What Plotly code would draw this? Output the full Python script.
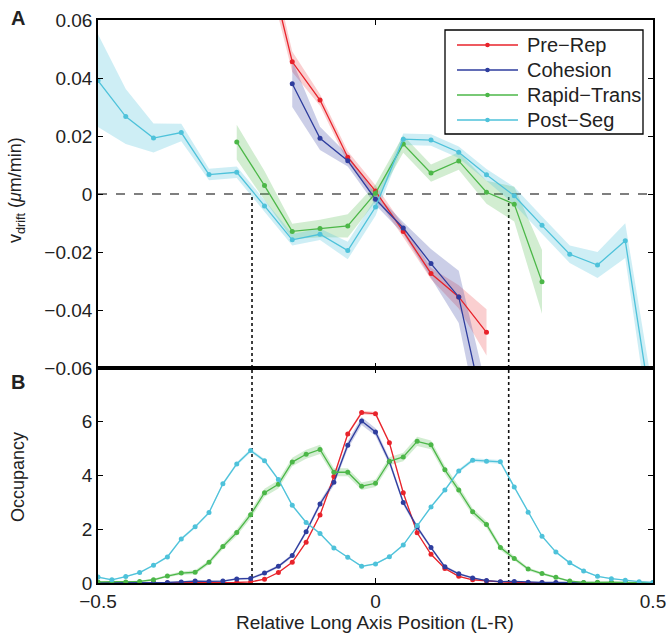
import plotly.graph_objects as go
from plotly.subplots import make_subplots

# ---------------- data ----------------
series_names = ["Pre−Rep", "Cohesion", "Rapid−Trans", "Post−Seg"]
series_colors = ["#e8232b", "#2e3d9e", "#4cb748", "#4ec2da"]
band_colors = ["rgba(232,35,43,0.22)", "rgba(46,61,158,0.25)", "rgba(76,183,72,0.25)", "rgba(78,194,218,0.28)"]

# Panel A: drift velocity vs position
x_drift = [-0.5, -0.45, -0.4, -0.35, -0.3, -0.25, -0.2, -0.15, -0.1, -0.05, 0.0,
           0.05, 0.1, 0.15, 0.2, 0.25, 0.3, 0.35, 0.4, 0.45, 0.5]
drift_prerep = [None, None, None, None, None, None, 0.085, 0.0456, 0.0324, 0.0127, 0.001,
                -0.0129, -0.0274, -0.0355, -0.0477, None, None, None, None, None, None]
err_prerep = [None, None, None, None, None, None, 0.005, 0.0035, 0.002, 0.002, 0.002,
              0.002, 0.002, 0.004, 0.008, None, None, None, None, None, None]
drift_cohesion = [None, None, None, None, None, None, None, 0.038, 0.0192, 0.0115, -0.0018,
                  -0.0117, -0.024, -0.0355, -0.079, None, None, None, None, None, None]
err_cohesion = [None, None, None, None, None, None, None, 0.008, 0.004, 0.002, 0.002,
                0.002, 0.005, 0.009, 0.012, None, None, None, None, None, None]
drift_rapid = [None, None, None, None, None, 0.0179, 0.0029, -0.0129, -0.0119, -0.011, 0.0003,
               0.0172, 0.0072, 0.0114, 0.0006, -0.0035, -0.0303, None, None, None, None]
err_rapid = [None, None, None, None, None, 0.006, 0.005, 0.0026, 0.003, 0.004, 0.003,
             0.003, 0.003, 0.003, 0.004, 0.006, 0.011, None, None, None, None]
drift_postseg = [0.0391, 0.0267, 0.0193, 0.0212, 0.0067, 0.0075, -0.0041, -0.0158, -0.0139, -0.0195, -0.0045,
                 0.0189, 0.0186, 0.0144, 0.0066, -0.0006, -0.0108, -0.0208, -0.0245, -0.0161, -0.078]
err_postseg = [0.016, 0.0095, 0.005, 0.003, 0.002, 0.002, 0.002, 0.002, 0.002, 0.003, 0.003,
               0.002, 0.002, 0.002, 0.002, 0.003, 0.003, 0.003, 0.0045, 0.006, 0.01]

# Panel B: occupancy vs position
x_occ = [-0.5, -0.475, -0.45, -0.425, -0.4, -0.375, -0.35, -0.325, -0.3, -0.275,
         -0.25, -0.225, -0.2, -0.175, -0.15, -0.125, -0.1, -0.075, -0.05, -0.025,
         0.0, 0.025, 0.05, 0.075, 0.1, 0.125, 0.15, 0.175, 0.2, 0.225,
         0.25, 0.275, 0.3, 0.325, 0.35, 0.375, 0.4, 0.425, 0.45, 0.475, 0.5]
occ_prerep = [0.0, 0.0, 0.0, 0.0, 0.0, 0.0, 0.01, 0.01, 0.01, 0.01,
              0.02, 0.04, 0.14, 0.39, 0.77, 1.52, 2.53, 3.96, 5.54, 6.34,
              6.30, 5.22, 3.36, 1.87, 1.07, 0.54, 0.25, 0.12, 0.07, 0.04,
              0.02, 0.01, 0.01, 0.0, 0.0, 0.0, 0.0, 0.0, 0.0, 0.0, 0.0]
occ_cohesion = [0.01, 0.01, 0.01, 0.01, 0.01, 0.02, 0.04, 0.07, 0.06, 0.07,
                0.15, 0.17, 0.37, 0.62, 1.02, 1.91, 2.94, 3.75, 5.13, 6.03,
                5.62, 4.52, 3.00, 2.08, 1.32, 0.60, 0.34, 0.19, 0.09, 0.05,
                0.06, 0.03, 0.02, 0.02, 0.01, 0.01, 0.01, 0.01, 0.0, 0.0, 0.0]
occ_rapid = [0.04, 0.04, 0.04, 0.06, 0.12, 0.26, 0.37, 0.40, 0.77, 1.36,
             1.88, 2.54, 3.36, 3.67, 4.50, 4.79, 4.97, 4.12, 4.12, 3.60,
             3.71, 4.53, 4.69, 5.27, 5.14, 4.21, 3.46, 2.65, 2.18, 1.32,
             0.91, 0.52, 0.35, 0.21, 0.07, 0.02, 0.03, 0.03, 0.02, 0.01, 0.01]
occ_postseg = [0.22, 0.12, 0.24, 0.39, 0.66, 0.97, 1.64, 2.09, 2.62, 3.69,
               4.43, 4.93, 4.55, 3.85, 2.89, 2.25, 1.84, 1.30, 0.96, 0.62,
               0.71, 0.98, 1.41, 2.14, 2.83, 3.46, 4.17, 4.57, 4.53, 4.51,
               3.57, 2.63, 1.74, 1.15, 0.75, 0.45, 0.25, 0.16, 0.10, 0.05, 0.02]
occ_err_prerep = [0.0, 0.0, 0.0, 0.0, 0.0, 0.0, 0.0, 0.0, 0.0, 0.0,
                  0.01, 0.01, 0.02, 0.03, 0.03, 0.04, 0.05, 0.06, 0.06, 0.07,
                  0.07, 0.06, 0.05, 0.04, 0.03, 0.03, 0.02, 0.01, 0.01, 0.01,
                  0.0, 0.0, 0.0, 0.0, 0.0, 0.0, 0.0, 0.0, 0.0, 0.0, 0.0]
occ_err_cohesion = [0.01, 0.01, 0.01, 0.01, 0.01, 0.02, 0.03, 0.03, 0.03, 0.03,
                    0.04, 0.04, 0.05, 0.05, 0.06, 0.08, 0.10, 0.12, 0.14, 0.15,
                    0.14, 0.12, 0.10, 0.08, 0.06, 0.05, 0.04, 0.03, 0.02, 0.02,
                    0.02, 0.01, 0.01, 0.01, 0.01, 0.01, 0.01, 0.01, 0.0, 0.0, 0.0]
occ_err_rapid = [0.02, 0.02, 0.02, 0.03, 0.04, 0.05, 0.06, 0.07, 0.08, 0.10,
                 0.12, 0.14, 0.15, 0.15, 0.16, 0.17, 0.17, 0.15, 0.15, 0.14,
                 0.14, 0.15, 0.16, 0.17, 0.16, 0.15, 0.15, 0.13, 0.12, 0.10,
                 0.08, 0.06, 0.05, 0.04, 0.03, 0.02, 0.02, 0.02, 0.02, 0.01, 0.01]
occ_err_postseg = [0.03, 0.02, 0.03, 0.03, 0.04, 0.04, 0.05, 0.05, 0.05, 0.06,
                   0.06, 0.07, 0.06, 0.05, 0.05, 0.04, 0.04, 0.03, 0.03, 0.03,
                   0.03, 0.03, 0.04, 0.04, 0.05, 0.05, 0.06, 0.07, 0.07, 0.07,
                   0.06, 0.05, 0.04, 0.04, 0.03, 0.03, 0.02, 0.02, 0.02, 0.01, 0.01]

marker_lines = [-0.2225, 0.24]

y_ticks_top = [0.06, 0.04, 0.02, 0.0, -0.02, -0.04, -0.06]
y_ticktext_top = ["0.06", "0.04", "0.02", "0", "−0.02", "−0.04", "−0.06"]
y_ticks_bot = [0, 2, 4, 6]
x_ticks = [-0.5, 0, 0.5]
x_ticktext = ["−0.5", "0", "0.5"]

FONT = "Liberation Sans, Arial, Helvetica, sans-serif"
TXT = "#222222"

# figure geometry (pixels)
W, H = 668, 636
ML, MR, MT, MB = 98, 15, 20, 53
PW, PH = W - ML - MR, H - MT - MB


def px2paper(px, py):
    return (px - ML) / PW, (H - MB - py) / PH


fig = make_subplots(rows=2, cols=1, shared_xaxes=True, vertical_spacing=0,
                    row_heights=[348 / 563, 215 / 563])


def band(xs, ys, es, fill, row):
    px, up, lo = [], [], []
    for xv, yv, ev in zip(xs, ys, es):
        if yv is None:
            continue
        px.append(xv)
        up.append(yv + ev)
        lo.append(yv - ev)
    fig.add_trace(go.Scatter(x=px + px[::-1], y=up + lo[::-1], fill="toself",
                             fillcolor=fill, line=dict(width=0), mode="lines",
                             hoverinfo="skip", showlegend=False), row=row, col=1)


drift_sets = [(drift_prerep, err_prerep), (drift_cohesion, err_cohesion),
              (drift_rapid, err_rapid), (drift_postseg, err_postseg)]
occ_sets = [(occ_prerep, occ_err_prerep), (occ_cohesion, occ_err_cohesion),
            (occ_rapid, occ_err_rapid), (occ_postseg, occ_err_postseg)]

# zero dashed line & dotted markers (below data)
fig.add_shape(type="line", x0=-0.5, x1=0.5, y0=0, y1=0, xref="x", yref="y",
              line=dict(color="black", width=1.2, dash="dash"), layer="below")
for xm in marker_lines:
    fig.add_shape(type="line", x0=xm, x1=xm, y0=-0.06, y1=0, xref="x", yref="y",
                  line=dict(color="#111", width=1.6, dash="dot"), layer="below")
    fig.add_shape(type="line", x0=xm, x1=xm, y0=0, y1=8, xref="x2", yref="y2",
                  line=dict(color="#111", width=1.6, dash="dot"), layer="below")

# bands
for (ys, es), bc in zip(drift_sets, band_colors):
    band(x_drift, ys, es, bc, 1)
for (ys, es), bc in zip(occ_sets, band_colors):
    band(x_occ, ys, es, bc, 2)

# lines
for (ys, _), name, c in zip(drift_sets, series_names, series_colors):
    fig.add_trace(go.Scatter(x=x_drift, y=ys, mode="lines+markers", name=name,
                             line=dict(color=c, width=1.3), marker=dict(color=c, size=5),
                             connectgaps=False, showlegend=False), row=1, col=1)
for (ys, _), name, c in zip(occ_sets, series_names, series_colors):
    fig.add_trace(go.Scatter(x=x_occ, y=ys, mode="lines+markers", name=name,
                             line=dict(color=c, width=1.3), marker=dict(color=c, size=5),
                             showlegend=False), row=2, col=1)

axis_common = dict(showline=True, linecolor="black", linewidth=1.5, mirror="ticks",
                   ticks="inside", ticklen=5, tickwidth=1, tickcolor="black",
                   showgrid=False, zeroline=False, automargin=False,
                   tickfont=dict(family=FONT, size=19, color=TXT))

fig.update_xaxes(range=[-0.5, 0.5], tickvals=x_ticks, ticktext=x_ticktext, **axis_common)
fig.update_xaxes(showticklabels=False, row=1, col=1)
fig.update_yaxes(range=[-0.06, 0.06], tickvals=y_ticks_top, ticktext=y_ticktext_top,
                 row=1, col=1, **axis_common)
fig.update_yaxes(range=[0, 8], tickvals=y_ticks_bot, row=2, col=1, **axis_common)

annos = [
    dict(text="v<sub>drift</sub> (<i>μ</i>m/min)", pos=(17, 190), textangle=-90, size=18),
    dict(text="Occupancy", pos=(18, 477), textangle=-90, size=18),
    dict(text="Relative Long Axis Position (L-R)", pos=(375, 622), size=19),
    dict(text="<b>A</b>", pos=(18, 18), size=20),
    dict(text="<b>B</b>", pos=(18, 382), size=20),
]
for a in annos:
    xp, yp = px2paper(*a["pos"])
    fig.add_annotation(text=a["text"], x=xp, y=yp, xref="paper", yref="paper",
                       showarrow=False, xanchor="center", yanchor="middle",
                       textangle=a.get("textangle", 0),
                       font=dict(family=FONT, size=a["size"], color=TXT))

# ---- legend box (drawn manually to match the original look) ----
lx0, lx1, ly0, ly1 = 445, 643, 30, 134
x0p, y0p = px2paper(lx0, ly0)
x1p, y1p = px2paper(lx1, ly1)
fig.add_shape(type="rect", xref="paper", yref="paper", x0=x0p, x1=x1p, y0=y1p, y1=y0p,
              line=dict(color="black", width=1.3), fillcolor="white", layer="above")
for i, (name, c) in enumerate(zip(series_names, series_colors)):
    py = 45 + 25 * i
    ax0, ayp = px2paper(457, py)
    ax1, _ = px2paper(518, py)
    axm, _ = px2paper(487.5, py)
    fig.add_shape(type="line", xref="paper", yref="paper", x0=ax0, x1=ax1, y0=ayp, y1=ayp,
                  line=dict(color=c, width=1.4), layer="above")
    fig.add_shape(type="circle", xref="paper", yref="paper",
                  x0=axm - 2.3 / PW, x1=axm + 2.3 / PW, y0=ayp - 2.3 / PH, y1=ayp + 2.3 / PH,
                  line=dict(color=c, width=0), fillcolor=c, layer="above")
    tx, _ = px2paper(525, py)
    fig.add_annotation(text=name, x=tx, y=ayp, xref="paper", yref="paper", showarrow=False,
                       xanchor="left", yanchor="middle",
                       font=dict(family=FONT, size=20, color=TXT))

fig.update_layout(
    width=W, height=H,
    margin=dict(l=ML, r=MR, t=MT, b=MB, autoexpand=False),
    plot_bgcolor="white", paper_bgcolor="white",
    font=dict(family=FONT, color=TXT),
    showlegend=False,
)

fig.write_html("out.html", config={"displayModeBar": False},
               post_script="document.body.style.margin='0';document.body.style.padding='0';")
